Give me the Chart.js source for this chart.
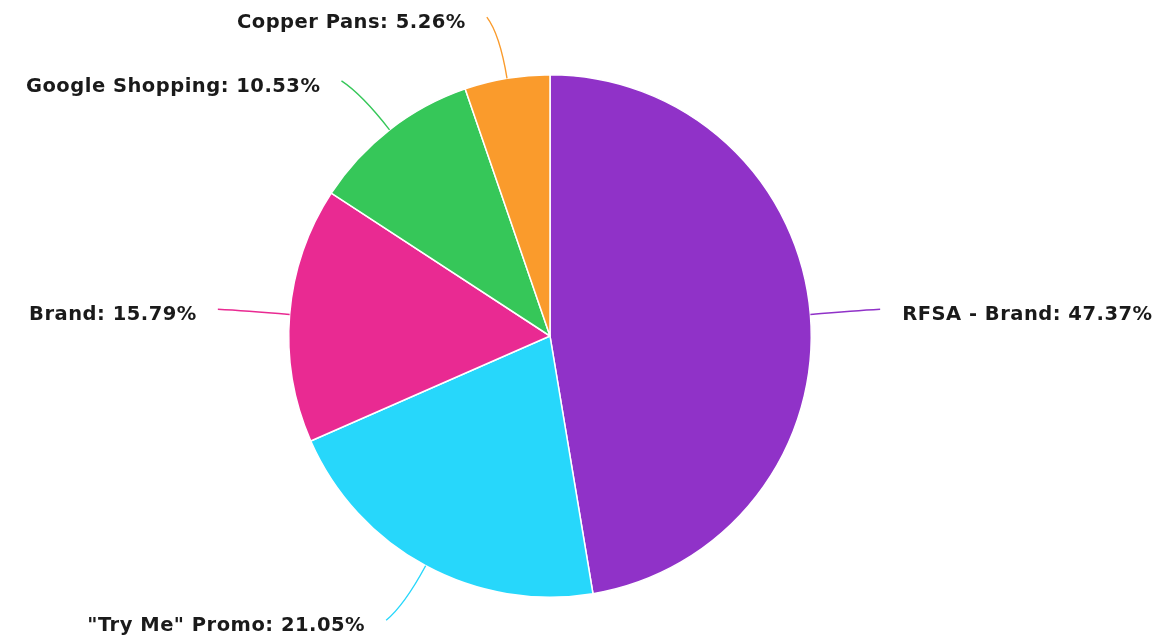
<!DOCTYPE html>
<html>
<head>
<meta charset="utf-8">
<script src="https://cdn.jsdelivr.net/npm/chart.js@4"></script>
<style>
html,body{margin:0;padding:0;background:#fff;}
#wrap{width:1162px;height:641px;position:relative;}
</style>
</head>
<body>
<div id="wrap"><canvas id="c" width="1162" height="641"></canvas></div>
<script>
const categories = ['RFSA - Brand', '"Try Me" Promo', 'Brand', 'Google Shopping', 'Copper Pans'];
const values = [47.37, 21.05, 15.79, 10.53, 5.26];
const colors = ['#9032C8', '#27D7FB', '#E92A92', '#36C759', '#FA9B2C'];

const labelPlugin = {
  id: 'pieLabels',
  afterDatasetsDraw(chart) {
    const ctx = chart.ctx;
    const meta = chart.getDatasetMeta(0);
    ctx.save();
    meta.data.forEach((arc, i) => {
      const p = arc.getProps(['x','y','startAngle','endAngle','outerRadius'], true);
      const mid = (p.startAngle + p.endAngle) / 2;
      const cos = Math.cos(mid), sin = Math.sin(mid);
      const r = p.outerRadius;
      const ax = p.x + cos * r, ay = p.y + sin * r;
      const cx = p.x + cos * (r + 45), cy = p.y + sin * (r + 45);
      const right = cos >= 0;
      const ex = p.x + cos * (r + 62) + (right ? 8 : -10);
      const ey = p.y + sin * (r + 62);
      ctx.beginPath();
      ctx.moveTo(ax, ay);
      ctx.quadraticCurveTo(cx, cy, ex, ey);
      ctx.strokeStyle = colors[i];
      ctx.lineWidth = 1.4;
      ctx.stroke();
      ctx.font = 'bold 19.5px "DejaVu Sans"';
      if ('letterSpacing' in ctx) ctx.letterSpacing = '0.5px';
      ctx.fillStyle = '#1a1a1a';
      ctx.textBaseline = 'middle';
      ctx.textAlign = right ? 'left' : 'right';
      const txt = categories[i] + ': ' + values[i].toFixed(2) + '%';
      ctx.fillText(txt, ex + (right ? 22 : -21), ey + 6);
    });
    ctx.restore();
  }
};

new Chart(document.getElementById('c'), {
  type: 'pie',
  data: {
    labels: categories,
    datasets: [{
      data: values,
      backgroundColor: colors,
      borderColor: '#ffffff',
      borderWidth: 1.5
    }]
  },
  options: {
    responsive: false,
    animation: false,
    layout: { padding: { left: 288, right: 350, top: 74, bottom: 43 } },
    plugins: { legend: { display: false }, tooltip: { enabled: false } }
  },
  plugins: [labelPlugin]
});
</script>
</body>
</html>
